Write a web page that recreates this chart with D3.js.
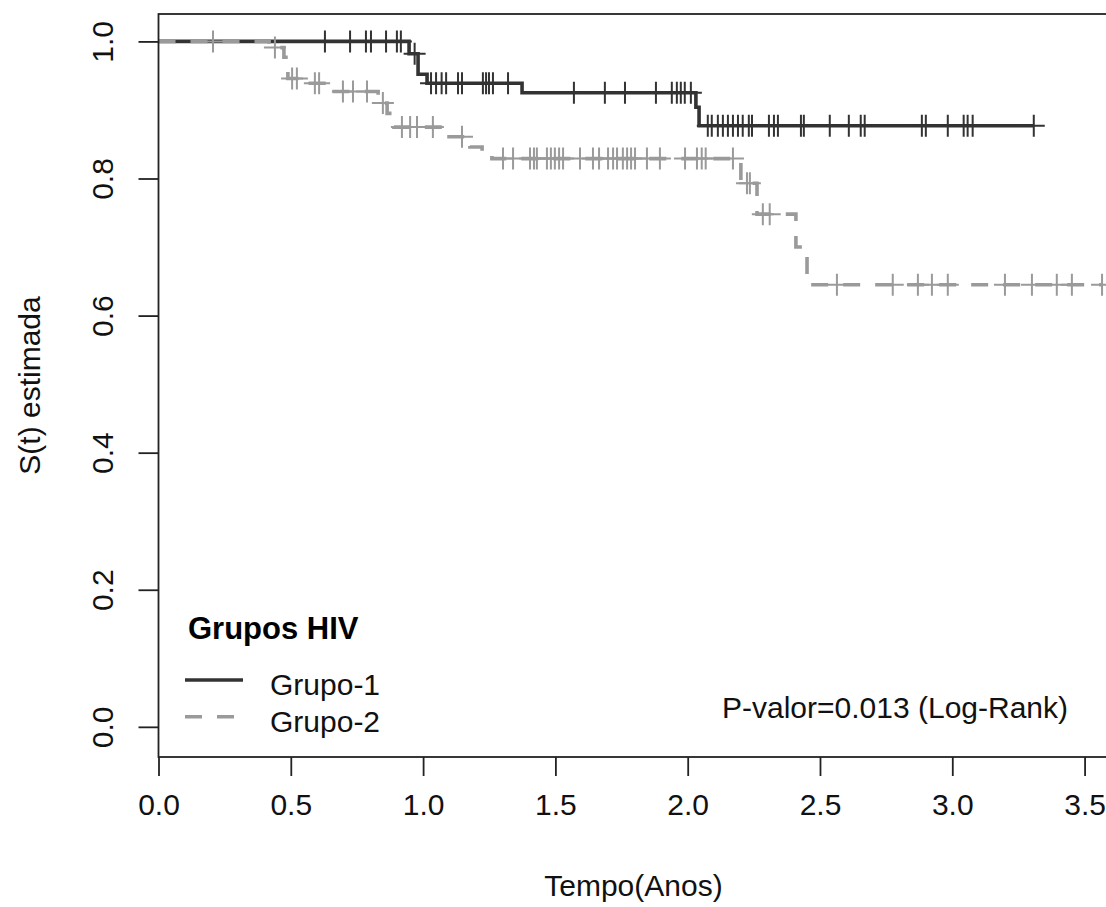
<!DOCTYPE html>
<html>
<head>
<meta charset="utf-8">
<script src="https://cdn.jsdelivr.net/npm/d3@7"></script>
<style>
  body { margin: 0; background: #fff; }
  svg { display: block; font-family: "Liberation Sans", Arial, sans-serif; }
</style>
</head>
<body>
<svg width="1106" height="907"></svg>
<script>
var groupNames = ["Grupo-1", "Grupo-2"];
var groupColors = ["#333333", "#9a9a9a"];

// Grupo-1: event times (anos) and S(t) after each step
var g1Times = [0, 0.947, 0.981, 1.015, 1.374, 2.031, 2.043];
var g1Surv = [1, 0.982, 0.952, 0.939, 0.925, 0.904, 0.877];
var g1Censor = [0.629, 0.724, 0.784, 0.803, 0.860, 0.901, 0.916,
  0.968,
  1.030, 1.049, 1.070, 1.087, 1.132, 1.147, 1.226, 1.238, 1.249, 1.264, 1.321,
  1.570, 1.687, 1.763, 1.880, 1.940, 1.959, 1.974, 1.989, 2.012,
  2.076, 2.091, 2.114, 2.133, 2.152, 2.171, 2.190, 2.208, 2.231, 2.243, 2.307, 2.326,
  2.341, 2.428, 2.439, 2.537, 2.609, 2.654, 2.669, 2.885, 2.900, 2.983, 3.043, 3.058,
  3.077, 3.308];

// Grupo-2
var g2Times = [0, 0.418, 0.474, 0.489, 0.557, 0.648, 0.830, 0.864, 0.890, 1.064, 1.177,
  1.223, 1.260, 2.201, 2.262, 2.409, 2.451];
var g2Surv = [1, 0.991, 0.977, 0.946, 0.939, 0.927, 0.910, 0.895, 0.875, 0.861, 0.846,
  0.837, 0.829, 0.793, 0.748, 0.700, 0.645];
var g2Censor = [0.206, 0.440, 0.505, 0.523, 0.591, 0.607, 0.697, 0.735, 0.788, 0.848,
  0.920, 0.951, 0.977, 1.037, 1.147,
  1.302, 1.340, 1.404, 1.419, 1.430, 1.468, 1.483, 1.498, 1.514, 1.529, 1.593, 1.642,
  1.665, 1.699, 1.718, 1.733, 1.755, 1.771, 1.786, 1.801, 1.846, 1.895, 1.990, 2.035,
  2.053, 2.068, 2.171,
  2.224, 2.235, 2.284, 2.310,
  2.564, 2.775, 2.870, 2.923, 2.983, 3.199, 3.301, 3.395, 3.452, 3.566];

var xTicks = [0, 0.5, 1, 1.5, 2, 2.5, 3, 3.5];
var yTicks = [0, 0.2, 0.4, 0.6, 0.8, 1.0];
var xTitle = "Tempo(Anos)";
var yTitle = "S(t) estimada";
var legendTitle = "Grupos HIV";
var pText = "P-valor=0.013 (Log-Rank)";

var svg = d3.select("svg"),
    fontSize = 30,
    textColor = "#111";

var x = d3.scaleLinear()
    .domain([0, 3.59])
    .range([158.5, 1108.4]);

var y = d3.scaleLinear()
    .domain([-0.044, 1.04])
    .range([757, 14]);

var groups = [
  {name: groupNames[0], times: g1Times, surv: g1Surv, censor: g1Censor, color: groupColors[0], dash: null},
  {name: groupNames[1], times: g2Times, surv: g2Surv, censor: g2Censor, color: groupColors[1], dash: "17,15"}
];

function survAt(g, t) {
  var i = d3.bisectRight(g.times, t) - 1;
  return g.surv[Math.max(i, 0)];
}

var line = d3.line()
    .x(function(d) { return x(d[0]); })
    .y(function(d) { return y(d[1]); })
    .curve(d3.curveStepAfter);

// curves (Grupo-2 drawn on top, as in the original)
groups.forEach(function(g) {
  var pts = g.times.map(function(t, i) { return [t, g.surv[i]]; });
  pts.push([d3.max(g.censor), g.surv[g.surv.length - 1]]);

  var cg = svg.append("g");
  cg.append("path")
      .datum(pts)
      .attr("d", line)
      .attr("fill", "none")
      .attr("stroke", g.color)
      .attr("stroke-width", 3.6)
      .attr("stroke-dasharray", g.dash);

  cg.selectAll("path.mark")
    .data(g.censor)
    .enter().append("path")
      .attr("class", "mark")
      .attr("d", function(t) {
        var cx = x(t), cy = y(survAt(g, t));
        return "M" + (cx - 11) + "," + cy + "H" + (cx + 11) + "M" + cx + "," + (cy - 11) + "V" + (cy + 11);
      })
      .attr("fill", "none")
      .attr("stroke", g.color)
      .attr("stroke-width", 2);
});

// box
svg.append("rect")
    .attr("x", x.range()[0])
    .attr("y", y.range()[1])
    .attr("width", x.range()[1] - x.range()[0])
    .attr("height", y.range()[0] - y.range()[1])
    .attr("fill", "none")
    .attr("stroke", "#222")
    .attr("stroke-width", 1.8);

// axes
var xAxis = svg.append("g")
    .attr("transform", "translate(0," + y.range()[0] + ")")
    .call(d3.axisBottom(x).tickValues(xTicks).tickSize(19).tickFormat(d3.format(".1f")));
xAxis.select(".domain").remove();
xAxis.selectAll("line").attr("stroke", "#222").attr("stroke-width", 1.8);
xAxis.selectAll("text")
    .attr("y", 58)
    .attr("dy", null)
    .attr("fill", textColor)
    .style("font-size", fontSize + "px")
    .style("font-family", "Liberation Sans, Arial, sans-serif");

var yAxis = svg.append("g")
    .attr("transform", "translate(" + x.range()[0] + ",0)")
    .call(d3.axisLeft(y).tickValues(yTicks).tickSize(20).tickFormat(d3.format(".1f")));
yAxis.select(".domain").remove();
yAxis.selectAll("line").attr("stroke", "#222").attr("stroke-width", 1.8);
yAxis.selectAll("text")
    .attr("x", null)
    .attr("dy", null)
    .attr("transform", "translate(-45.5,0) rotate(-90)")
    .attr("text-anchor", "middle")
    .attr("fill", textColor)
    .style("font-size", fontSize + "px")
    .style("font-family", "Liberation Sans, Arial, sans-serif");

// axis titles
svg.append("text")
    .attr("x", (x.range()[0] + x.range()[1]) / 2)
    .attr("y", 896)
    .attr("text-anchor", "middle")
    .attr("fill", textColor)
    .style("font-size", fontSize + "px")
    .text(xTitle);

svg.append("text")
    .attr("transform", "translate(40," + (y.range()[0] + y.range()[1]) / 2 + ") rotate(-90)")
    .attr("text-anchor", "middle")
    .attr("fill", textColor)
    .style("font-size", fontSize + "px")
    .text(yTitle);

// legend
var legend = svg.append("g");
legend.append("text")
    .attr("x", 188)
    .attr("y", 639)
    .attr("fill", "#000")
    .style("font-size", "31px")
    .style("font-weight", "bold")
    .text(legendTitle);

var item = legend.selectAll("g.item")
    .data(groups)
    .enter().append("g")
    .attr("class", "item")
    .attr("transform", function(d, i) { return "translate(0," + (680 + i * 36.7) + ")"; });
item.append("line")
    .attr("x1", 185)
    .attr("x2", 243)
    .attr("stroke", function(d) { return d.color; })
    .attr("stroke-width", 3.6)
    .attr("stroke-dasharray", function(d) { return d.dash; });
item.append("text")
    .attr("x", 270)
    .attr("y", 15)
    .attr("fill", textColor)
    .style("font-size", fontSize + "px")
    .text(function(d) { return d.name; });

svg.append("text")
    .attr("x", 722)
    .attr("y", 718)
    .attr("fill", textColor)
    .style("font-size", fontSize + "px")
    .text(pText);
</script>
</body>
</html>
